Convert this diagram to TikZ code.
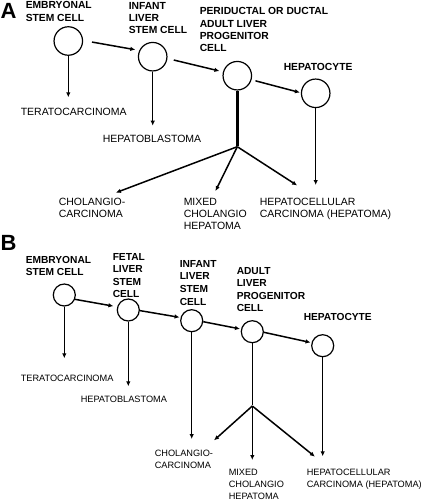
\documentclass[tikz,border=0pt]{standalone}
\usepackage{fontspec}
\setmainfont{Liberation Sans}
\usetikzlibrary{arrows.meta,positioning}

\begin{document}
\begin{tikzpicture}[x=1pt,y=-1pt,line width=1.5pt,shorten >=1pt,
    >={Latex[length=5pt,width=4.5pt]},
    cell/.style={circle,draw,line width=1.2pt,minimum size=28.5pt,inner sep=0pt},
    cellb/.style={cell,minimum size=22pt},
    stage/.style={anchor=north west,inner sep=0pt,align=left,
      font=\bfseries\fontsize{10.3}{12.3}\selectfont},
    stageb/.style={stage,font=\bfseries\fontsize{10.2}{12.6}\selectfont},
    tumour/.style={anchor=north west,inner sep=0pt,align=left,
      font=\fontsize{10.5}{11.8}\selectfont},
    tumourb/.style={tumour,font=\fontsize{9.2}{12}\selectfont},
    panel/.style={anchor=north west,inner sep=0pt,
      font=\bfseries\fontsize{22}{22}\selectfont}]
  \useasboundingbox (0,0) rectangle (423,500);

  % panel A
  \node[panel] (lab_A) at (0,3) {A};
  \node[cell] (es_A) at (68.3,41) {};
  \node[cell] (il_A) at (152.7,56.7) {};
  \node[cell] (pd_A) at (237.3,75.7) {};
  \node[cell] (hep_A) at (315.7,93.3) {};
  \node[stage] (es_A_txt) at (25,0.8) {EMBRYONAL\\STEM CELL};
  \node[stage] (il_A_txt) at (128,1.3) {INFANT\\LIVER\\STEM CELL};
  \node[stage] (pd_A_txt) at (199,7) {PERIDUCTAL OR DUCTAL\\ADULT LIVER\\PROGENITOR\\CELL};
  \node[stage] (hep_A_txt) at (283,63) {HEPATOCYTE};
  \node[tumour] (tera_A) at (20,107.2) {TERATOCARCINOMA};
  \node[tumour] (hb_A) at (102,134.5) {HEPATOBLASTOMA};
  \node[tumour] (cc_A) at (58,197.9) {CHOLANGIO-\\CARCINOMA};
  \node[tumour] (mix_A) at (183,197.9) {MIXED\\CHOLANGIO\\HEPATOMA};
  \node[tumour] (hcc_A) at (259,197.2) {HEPATOCELLULAR\\CARCINOMA (HEPATOMA)};
  \coordinate (tera_A_tip) at (68.3,98.3);
  \coordinate (hb_A_tip) at (152.7,126.7);
  \coordinate (split_A) at (237.3,146.7);
  \coordinate (cc_A_tip) at (115,193);
  \coordinate (mix_A_tip) at (215,192);
  \coordinate (hcc_A_tip) at (298,186);
  \coordinate (hep_A_tip) at (315.7,186);

  \draw[line width=3.2pt] (pd_A.south) -- (split_A);
  \path[->]
    (es_A.2) edge[shorten <=9pt,shorten >=4pt] (il_A.155)
    (il_A.353) edge[shorten <=6.5pt,shorten >=3.6pt] (pd_A.165)
    (pd_A.344) edge[shorten <=4pt] (hep_A.178)
    (es_A.south) edge (tera_A_tip)
    (il_A.south) edge (hb_A_tip)
    (hep_A.south) edge (hep_A_tip)
    (split_A) edge (cc_A_tip)
    (split_A) edge (mix_A_tip)
    (split_A) edge (hcc_A_tip)
    ;

  % panel B
  \node[panel] (lab_B) at (0,235) {B};
  \node[cellb] (es_B) at (64.3,295) {};
  \node[cellb] (fl_B) at (128.3,310) {};
  \node[cellb] (il_B) at (191.7,320.7) {};
  \node[cellb] (al_B) at (252.3,331.7) {};
  \node[cellb] (hep_B) at (322.7,345.7) {};
  \node[stageb] (es_B_txt) at (25,255.5) {EMBRYONAL\\STEM CELL};
  \node[stageb] (fl_B_txt) at (112,252.3) {FETAL\\LIVER\\STEM\\CELL};
  \node[stageb] (il_B_txt) at (179,259.6) {INFANT\\LIVER\\STEM\\CELL};
  \node[stageb] (al_B_txt) at (236,266.3) {ADULT\\LIVER\\PROGENITOR\\CELL};
  \node[stageb] (hep_B_txt) at (303,312.3) {HEPATOCYTE};
  \node[tumourb] (tera_B) at (20,374.3) {TERATOCARCINOMA};
  \node[tumourb] (hb_B) at (80,395.6) {HEPATOBLASTOMA};
  \node[tumourb] (cc_B) at (154,449) {CHOLANGIO-\\CARCINOMA};
  \node[tumourb] (mix_B) at (228,468.5) {MIXED\\CHOLANGIO\\HEPATOMA};
  \node[tumourb] (hcc_B) at (306,468.5) {HEPATOCELLULAR\\CARCINOMA (HEPATOMA)};
  \coordinate (tera_B_tip) at (64.3,359.3);
  \coordinate (hb_B_tip) at (128.3,387.3);
  \coordinate (cc_B_tip1) at (191.7,440);
  \coordinate (split_B) at (252.3,406);
  \coordinate (cc_B_tip2) at (213.3,441);
  \coordinate (mix_B_tip) at (252.3,461);
  \coordinate (hcc_B_tip) at (315.7,457.3);
  \coordinate (hep_B_tip) at (322.7,457.3);

  \draw (al_B.south) -- (split_B);
  \path[->]
    (es_B.338) edge[shorten >=3.8pt] (fl_B.164)
    (fl_B.357) edge (il_B.164)
    (il_B.355) edge (al_B.167)
    (al_B.357) edge (hep_B.165)
    (es_B.south) edge (tera_B_tip)
    (fl_B.south) edge (hb_B_tip)
    (il_B.south) edge (cc_B_tip1)
    (hep_B.south) edge (hep_B_tip)
    (split_B) edge (cc_B_tip2)
    (split_B) edge (mix_B_tip)
    (split_B) edge (hcc_B_tip)
    ;
\end{tikzpicture}
\end{document}
